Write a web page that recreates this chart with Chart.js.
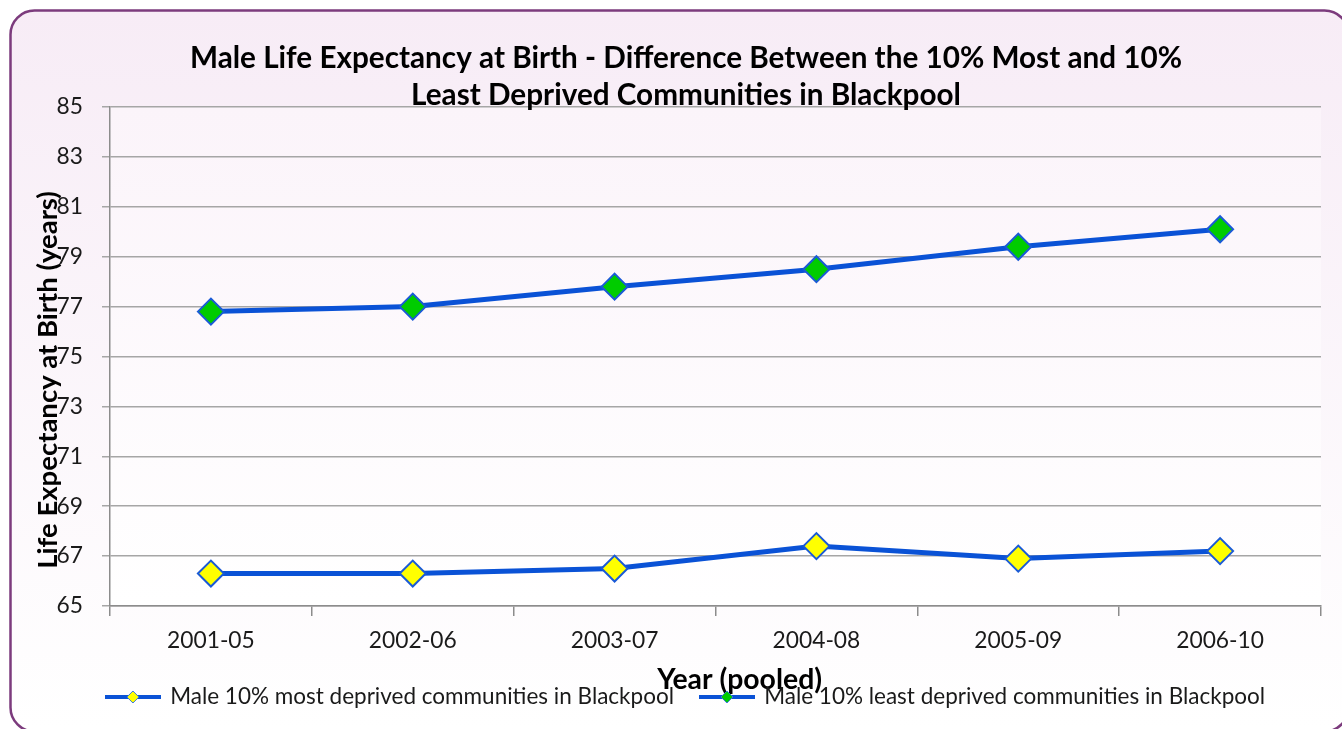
<!DOCTYPE html>
<html>
<head>
<meta charset="utf-8">
<script src="https://cdn.jsdelivr.net/npm/chart.js@4.4.1/dist/chart.umd.min.js"></script>
<style>
html,body{margin:0;padding:0;background:#ffffff;}
#wrap{width:1342px;height:729px;position:relative;}
</style>
</head>
<body>
<div id="wrap"><canvas id="c"></canvas></div>
<script>
// ---- data ----
const categories = ['2001-05', '2002-06', '2003-07', '2004-08', '2005-09', '2006-10'];
const mostDeprived = [66.3, 66.3, 66.5, 67.4, 66.9, 67.2];
const leastDeprived = [76.8, 77.0, 77.8, 78.5, 79.4, 80.1];
const seriesNames = [
  'Male 10% most deprived communities in Blackpool',
  'Male 10% least deprived communities in Blackpool'
];
const titleLines = [
  'Male Life Expectancy at Birth - Difference Between the 10% Most and 10%',
  'Least Deprived Communities in Blackpool'
];
const yTitle = 'Life Expectancy at Birth (years)';
const xTitle = 'Year (pooled)';
const yMin = 65, yMax = 85, yStep = 2;

// ---- font sizing to match reference text widths ----
const FAMILY = 'Lato, "Noto Sans", sans-serif';
const mctx = document.createElement('canvas').getContext('2d');
function textW(text, weight, size) {
  mctx.font = weight + ' ' + size + 'px ' + FAMILY;
  return mctx.measureText(text).width;
}
function fit(text, weight, target) {
  return Math.round(1000 * target / textW(text, weight, 100)) / 10;
}
const titleSize = fit(titleLines[0], 'bold', 991);
const tickSize = fit('2001-05', 'normal', 88);
const legendSize = fit(seriesNames[0], 'normal', 503);
const xTitleSize = fit(xTitle, 'bold', 165);
const yTitleSize = fit(yTitle, 'bold', 378);

// axis titles sit off-centre in the reference: pad with spaces
function padSpaces(weight, size, shift) {
  const n = Math.max(0, Math.round(2 * shift / textW(' ', weight, size)));
  return ' '.repeat(n);
}
const xTitleText = padSpaces('bold', xTitleSize, 23) + xTitle;
const yTitleText = yTitle + padSpaces('bold', yTitleSize, 22);

// ---- legend geometry ----
const legTextW = textW(seriesNames[0], 'normal', legendSize);
const legBoxW = 52;
const legItemW = legBoxW + legendSize / 2 + legTextW;
const legPad = Math.max(4, 594 - legItemW);
const legTop = 697 - legPad - legendSize / 2;
const legBottom = legTop + legendSize + legPad + 10;
const padBottom = 729 - legBottom;
const xScaleH = legTop - 606;
const xTitlePadB = legTop - xTitleSize / 2 - 680;

// ---- legend icons (line with diamond) ----
function makeIcon(fill) {
  const c = document.createElement('canvas');
  c.width = 56; c.height = 16;
  const g = c.getContext('2d');
  g.strokeStyle = '#0a52d6'; g.lineWidth = 4; g.lineCap = 'butt';
  g.beginPath(); g.moveTo(0, 8); g.lineTo(56, 8); g.stroke();
  g.beginPath(); g.moveTo(28, 2); g.lineTo(34, 8); g.lineTo(28, 14); g.lineTo(22, 8); g.closePath();
  g.fillStyle = fill; g.fill();
  g.strokeStyle = '#3a78d8'; g.lineWidth = 1; g.stroke();
  return c;
}
const icons = [makeIcon('#ffff00'), makeIcon('#00cc00')];

// ---- background plugin ----
const bgPlugin = {
  id: 'bg',
  beforeDraw(chart) {
    const { ctx, chartArea: a } = chart;
    ctx.save();
    ctx.fillStyle = '#ffffff';
    ctx.fillRect(0, 0, chart.width, chart.height);
    const g = ctx.createLinearGradient(0, 10, 0, 729);
    g.addColorStop(0, '#f7ecf6');
    g.addColorStop(1, '#ffffff');
    ctx.beginPath();
    ctx.roundRect(10.5, 10.5, 1338, 721, 24);
    ctx.fillStyle = g;
    ctx.fill();
    ctx.lineWidth = 2.5;
    ctx.strokeStyle = '#7c3b7d';
    ctx.stroke();
    const g2 = ctx.createLinearGradient(0, a.top, 0, a.bottom);
    g2.addColorStop(0, '#fbf4fa');
    g2.addColorStop(1, '#ffffff');
    ctx.fillStyle = g2;
    ctx.fillRect(a.left, a.top, a.right - a.left, a.bottom - a.top);
    ctx.restore();
  }
};

Chart.defaults.font.family = FAMILY;
Chart.defaults.color = '#1a1a1a';

const lineStyle = {
  borderColor: '#0a52d6',
  borderWidth: 5,
  pointStyle: 'rectRot',
  pointRadius: 13,
  pointHoverRadius: 13,
  pointBorderColor: '#1a5ad6',
  pointBorderWidth: 2,
  tension: 0,
  fill: false
};

new Chart(document.getElementById('c'), {
  type: 'line',
  data: {
    labels: categories,
    datasets: [
      Object.assign({ label: seriesNames[0], data: mostDeprived, pointBackgroundColor: '#ffff00' }, lineStyle),
      Object.assign({ label: seriesNames[1], data: leastDeprived, pointBackgroundColor: '#00cc00' }, lineStyle)
    ]
  },
  options: {
    responsive: true,
    maintainAspectRatio: false,
    animation: false,
    events: [],
    layout: { padding: { left: 30, right: 0, top: 0, bottom: padBottom } },
    plugins: {
      title: {
        display: true,
        text: titleLines,
        color: '#000000',
        font: { size: titleSize, weight: 'bold', lineHeight: 37 / titleSize },
        padding: { top: 39.5, bottom: -6.5 }
      },
      legend: {
        position: 'bottom',
        labels: {
          usePointStyle: true,
          pointStyleWidth: legBoxW,
          padding: legPad,
          color: '#1a1a1a',
          font: { size: legendSize },
          generateLabels(chart) {
            const items = Chart.defaults.plugins.legend.labels.generateLabels(chart);
            items.forEach((it, i) => { it.pointStyle = icons[i]; });
            return items;
          }
        }
      },
      tooltip: { enabled: false }
    },
    scales: {
      x: {
        offset: true,
        grid: { offset: true, drawOnChartArea: false, drawTicks: true, tickLength: 10, color: '#8c8c8c', lineWidth: 1.5 },
        border: { color: '#8c8c8c', width: 1.5 },
        ticks: { padding: 11, font: { size: tickSize }, color: '#1a1a1a' },
        title: {
          display: true, text: xTitleText, color: '#000000',
          font: { size: xTitleSize, weight: 'bold', lineHeight: 1 },
          padding: { top: 0, bottom: xTitlePadB }
        },
        afterFit(s) { s.height = xScaleH; }
      },
      y: {
        min: yMin, max: yMax,
        ticks: { stepSize: yStep, padding: 19, font: { size: tickSize }, color: '#1a1a1a' },
        grid: { color: '#a6a6a6', lineWidth: 1.5, tickLength: 8 },
        border: { color: '#8c8c8c', width: 1.5 },
        title: {
          display: true, text: yTitleText, color: '#000000',
          font: { size: yTitleSize, weight: 'bold', lineHeight: 1 },
          padding: { top: 4, bottom: 0 }
        },
        afterFit(s) { s.width = 80; }
      },
      y2: {
        position: 'right',
        display: true,
        grid: { display: false, drawTicks: false },
        border: { display: false },
        ticks: { display: false },
        afterFit(s) { s.width = 21; }
      }
    }
  },
  plugins: [bgPlugin]
});
</script>
</body>
</html>
